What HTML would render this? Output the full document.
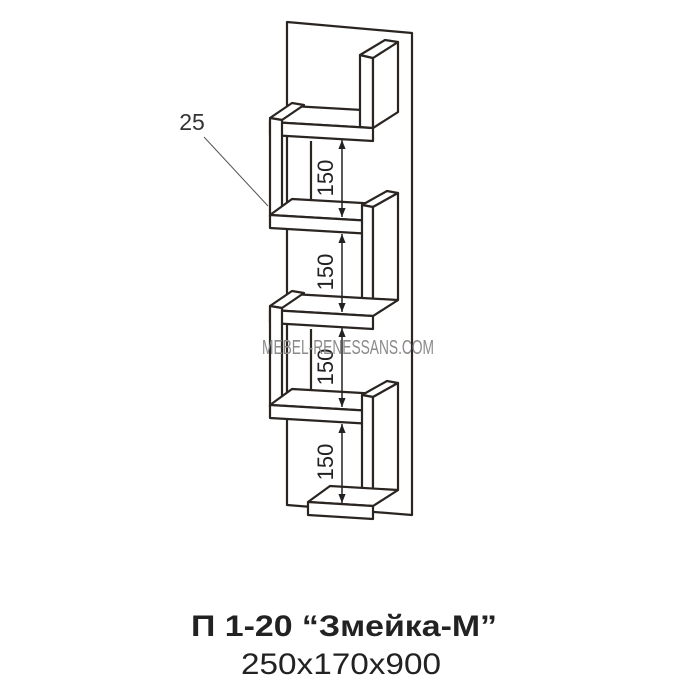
<!DOCTYPE html><html><head><meta charset="utf-8"><style>body{margin:0;background:#fff}svg{display:block}</style></head><body>
<svg width="700" height="700" viewBox="0 0 700 700" xmlns="http://www.w3.org/2000/svg" font-family="'Liberation Sans', 'DejaVu Sans', sans-serif">
<defs>
<marker id="a" viewBox="0 0 10 10" refX="10" refY="5" markerWidth="6" markerHeight="8" orient="auto-start-reverse"><path d="M0,1 L10,5 L0,9 z" fill="#222"/></marker>
</defs>
<g fill="#fff" stroke="#2b2522" stroke-width="2.2" stroke-linejoin="round">
<polygon points="287,22 412,33 412,515 287,505"/>
<polygon points="270,122 292,106 398,112 373,128"/><polygon points="270,122 373,128 373,141 270,135"/>
<polygon points="360,55 373,58 373,128 360,127"/><polygon points="373,58 398,42 398,112 373,128"/><polygon points="360,55 385,40 398,42 373,58"/>
<polygon points="270,118 292,103 304,105 282,120"/><polygon points="270,118 282,120 282,217 270,217"/>
<line x1="311" y1="141" x2="311" y2="200"/>
<polygon points="270,215 292,199 398,205 373,221"/><polygon points="270,215 373,221 373,234 270,228"/>
<polygon points="362,205 387,191 398,193 373,207"/><polygon points="362,205 373,207 373,316 362,315"/><polygon points="373,207 398,193 398,300 373,316"/>
<polygon points="270,310 292,294 398,300 373,316"/><polygon points="270,310 373,316 373,329 270,323"/>
<polygon points="270,306 292,291 304,293 282,308"/><polygon points="270,306 282,308 282,407 270,407"/>
<line x1="311" y1="329" x2="311" y2="390"/>
<polygon points="270,405 292,389 398,395 373,411"/><polygon points="270,405 373,411 373,424 270,418"/>
<polygon points="362,395 387,381 398,383 373,397"/><polygon points="362,395 373,397 373,506 362,505"/><polygon points="373,397 398,383 398,490 373,506"/>
<polygon points="308,502 330,486 398,490 373,506"/><polygon points="308,502 373,506 373,519 308,515"/>
</g>
<g stroke="#222" stroke-width="1.5" marker-start="url(#a)" marker-end="url(#a)">
<line x1="342" y1="140" x2="342" y2="217"/>
<line x1="342" y1="234" x2="342" y2="312"/>
<line x1="342" y1="328" x2="342" y2="407"/>
<line x1="342" y1="424" x2="342" y2="503"/>
</g>
<g font-size="22" fill="#222" text-anchor="middle">
<text transform="translate(333,178) rotate(-90)">150</text>
<text transform="translate(333,272) rotate(-90)">150</text>
<text transform="translate(333,367) rotate(-90)">150</text>
<text transform="translate(333,462) rotate(-90)">150</text>
</g>
<text x="192" y="130" font-size="23" fill="#333" text-anchor="middle">25</text>
<line x1="204" y1="137" x2="268" y2="206" stroke="#555" stroke-width="1"/>
<text x="348" y="354" font-size="20" fill="#8a8a8a" text-anchor="middle" textLength="172" lengthAdjust="spacingAndGlyphs">MEBEL-RENESSANS.COM</text>
<text x="344" y="636" font-size="30" font-weight="bold" fill="#222" text-anchor="middle" textLength="306" lengthAdjust="spacingAndGlyphs">П 1-20 “Змейка-М”</text>
<text x="341" y="674" font-size="30" fill="#222" text-anchor="middle" textLength="200" lengthAdjust="spacingAndGlyphs">250x170x900</text>
</svg>
</body></html>
